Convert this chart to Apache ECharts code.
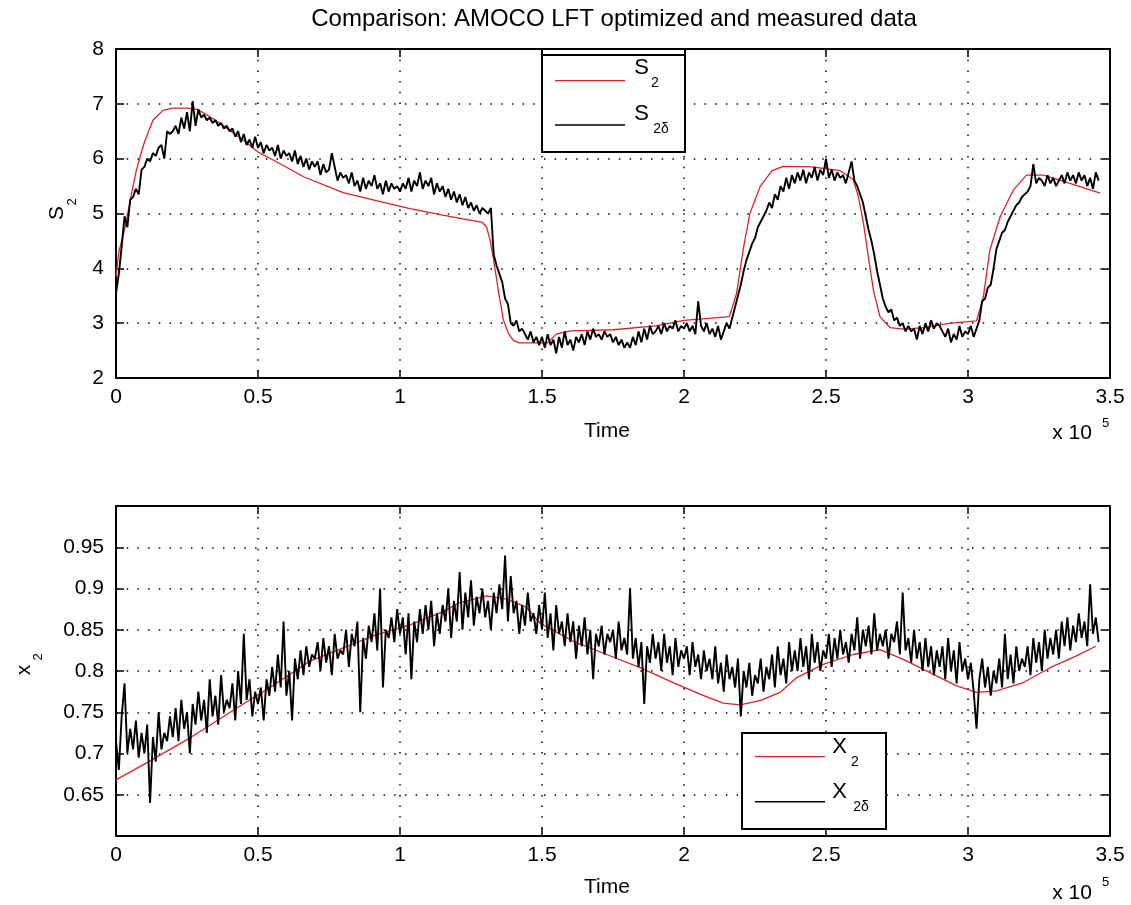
<!DOCTYPE html>
<html>
<head>
<meta charset="utf-8">
<script src="https://cdn.jsdelivr.net/npm/echarts@6/dist/echarts.min.js"></script>
<style>
  body { margin: 0; background: #fff; }
  #chart { width: 1131px; height: 905px; }
</style>
</head>
<body>
<div id="chart"></div>
<script>
// time in units of 1e5, measured data sampled every 0.01
const sampleStep = 0.01;

// S2 model (red)
const modelSTime = [0, 0.01, 0.03, 0.055, 0.07, 0.085, 0.1, 0.13, 0.165, 0.2, 0.25, 0.285, 0.32, 0.37, 0.45, 0.5, 0.57, 0.66, 0.8, 0.92, 1.035, 1.15, 1.29, 1.305, 1.317, 1.328, 1.346, 1.364, 1.382, 1.4, 1.42, 1.52, 1.55, 1.6, 1.75, 1.9, 2.0, 2.16, 2.185, 2.21, 2.232, 2.268, 2.31, 2.35, 2.45, 2.55, 2.596, 2.614, 2.632, 2.649, 2.667, 2.69, 2.725, 2.772, 2.85, 2.937, 3.03, 3.054, 3.077, 3.113, 3.16, 3.206, 3.265, 3.359, 3.43, 3.465];
const modelS = [3.85, 4.3, 4.7, 5.37, 5.75, 6.04, 6.3, 6.7, 6.88, 6.92, 6.92, 6.9, 6.8, 6.63, 6.33, 6.12, 5.93, 5.67, 5.38, 5.23, 5.09, 4.97, 4.84, 4.75, 4.52, 4.21, 3.6, 3.06, 2.81, 2.68, 2.64, 2.64, 2.8, 2.86, 2.88, 2.95, 3.05, 3.12, 3.54, 4.39, 5.0, 5.49, 5.78, 5.86, 5.85, 5.78, 5.62, 5.31, 4.82, 4.21, 3.6, 3.12, 2.92, 2.89, 2.92, 3.0, 3.04, 3.48, 4.33, 4.94, 5.43, 5.7, 5.7, 5.55, 5.43, 5.37];

// S2 delta measured (black)
const measS = [
  3.55, 3.90, 4.40, 4.95, 4.75, 5.25, 5.30, 5.45, 5.35, 5.80,
  5.85, 6.00, 5.95, 6.10, 6.05, 6.20, 6.25, 6.00, 6.50, 6.45,
  6.50, 6.60, 6.45, 6.75, 6.55, 6.85, 6.50, 7.05, 6.60, 6.90,
  6.75, 6.80, 6.70, 6.75, 6.65, 6.70, 6.60, 6.65, 6.55, 6.60,
  6.50, 6.55, 6.40, 6.50, 6.30, 6.45, 6.25, 6.35, 6.20, 6.40,
  6.20, 6.30, 6.10, 6.25, 6.15, 6.20, 6.05, 6.25, 6.00, 6.15,
  6.05, 6.10, 5.95, 6.15, 5.90, 6.05, 5.85, 6.00, 5.80, 5.95,
  5.85, 5.95, 5.70, 5.90, 5.75, 5.80, 6.10, 5.85, 5.60, 5.75,
  5.65, 5.70, 5.55, 5.75, 5.50, 5.60, 5.40, 5.65, 5.45, 5.60,
  5.50, 5.70, 5.45, 5.55, 5.35, 5.60, 5.40, 5.55, 5.45, 5.50,
  5.40, 5.55, 5.45, 5.65, 5.40, 5.60, 5.50, 5.75, 5.45, 5.60,
  5.50, 5.65, 5.35, 5.55, 5.40, 5.50, 5.30, 5.45, 5.25, 5.40,
  5.20, 5.35, 5.15, 5.30, 5.10, 5.20, 5.05, 5.15, 5.00, 5.10,
  5.05, 5.00, 5.10, 4.25, 4.05, 3.90, 3.75, 3.45, 3.35, 3.00,
  2.95, 3.05, 2.85, 2.90, 2.80, 2.70, 2.85, 2.65, 2.75, 2.60,
  2.75, 2.55, 2.80, 2.60, 2.70, 2.45, 2.75, 2.55, 2.85, 2.60,
  2.70, 2.50, 2.75, 2.65, 2.80, 2.60, 2.85, 2.70, 2.90, 2.75,
  2.80, 2.70, 2.85, 2.75, 2.80, 2.65, 2.75, 2.60, 2.70, 2.55,
  2.65, 2.55, 2.75, 2.60, 2.85, 2.65, 2.90, 2.70, 2.95, 2.80,
  2.85, 2.95, 2.80, 3.00, 2.85, 2.95, 2.90, 3.05, 2.85, 2.95,
  2.90, 3.00, 2.85, 2.95, 2.80, 3.40, 2.95, 2.85, 3.00, 2.80,
  2.90, 2.75, 2.95, 2.70, 2.85, 3.00, 2.90, 3.10, 3.30, 3.50,
  3.70, 3.95, 4.15, 4.30, 4.45, 4.55, 4.75, 4.85, 4.95, 5.05,
  5.20, 5.10, 5.35, 5.25, 5.50, 5.40, 5.65, 5.45, 5.70, 5.55,
  5.75, 5.60, 5.80, 5.55, 5.75, 5.65, 5.85, 5.60, 5.80, 5.70,
  6.00, 5.65, 5.80, 5.60, 5.75, 5.65, 5.70, 5.55, 5.75, 5.95,
  5.60, 5.50, 5.35, 5.20, 4.95, 4.70, 4.50, 4.25, 3.95, 3.70,
  3.45, 3.30, 3.20, 3.25, 3.05, 3.10, 2.95, 3.00, 2.85, 2.95,
  2.85, 2.90, 2.70, 2.95, 2.80, 3.00, 2.85, 3.05, 2.90, 3.00,
  2.95, 2.85, 2.75, 2.90, 2.65, 2.80, 2.70, 2.95, 2.75, 2.85,
  2.80, 2.95, 2.75, 2.90, 3.05, 3.40, 3.45, 3.65, 3.70, 4.00,
  4.35, 4.50, 4.65, 4.70, 4.85, 4.95, 5.05, 5.15, 5.20, 5.30,
  5.35, 5.40, 5.50, 5.90, 5.55, 5.65, 5.60, 5.50, 5.70, 5.55,
  5.65, 5.50, 5.60, 5.70, 5.55, 5.75, 5.60, 5.70, 5.55, 5.75,
  5.60, 5.70, 5.50, 5.65, 5.45, 5.75, 5.60
];

// X2 model (red)
const modelXTime = [0, 0.12, 0.261, 0.448, 0.542, 0.683, 0.8, 0.918, 1.035, 1.152, 1.211, 1.305, 1.376, 1.446, 1.493, 1.61, 1.728, 1.845, 1.962, 2.056, 2.138, 2.197, 2.268, 2.338, 2.397, 2.49, 2.596, 2.69, 2.772, 2.866, 2.96, 3.03, 3.1, 3.195, 3.289, 3.38, 3.45];
const modelX = [0.668, 0.691, 0.719, 0.76, 0.78, 0.812, 0.828, 0.844, 0.856, 0.872, 0.883, 0.891, 0.887, 0.877, 0.858, 0.836, 0.82, 0.804, 0.786, 0.772, 0.761, 0.759, 0.764, 0.774, 0.792, 0.808, 0.82, 0.826, 0.814, 0.798, 0.782, 0.774, 0.776, 0.786, 0.804, 0.818, 0.83];

// X2 delta measured (black)
const measX = [
  0.715, 0.680, 0.745, 0.785, 0.700, 0.730, 0.705, 0.740, 0.695, 0.725,
  0.700, 0.735, 0.640, 0.720, 0.690, 0.750, 0.705, 0.725, 0.715, 0.745,
  0.720, 0.755, 0.715, 0.765, 0.730, 0.750, 0.700, 0.760, 0.735, 0.775,
  0.740, 0.765, 0.725, 0.790, 0.745, 0.770, 0.735, 0.795, 0.750, 0.765,
  0.755, 0.785, 0.740, 0.800, 0.760, 0.845, 0.765, 0.790, 0.745, 0.775,
  0.760, 0.780, 0.740, 0.790, 0.770, 0.805, 0.775, 0.820, 0.780, 0.860,
  0.770, 0.800, 0.740, 0.815, 0.790, 0.825, 0.795, 0.830, 0.805, 0.820,
  0.815, 0.835, 0.800, 0.840, 0.810, 0.830, 0.795, 0.845, 0.815, 0.825,
  0.820, 0.850, 0.805, 0.845, 0.830, 0.860, 0.750, 0.840, 0.815, 0.855,
  0.835, 0.870, 0.825, 0.900, 0.780, 0.850, 0.840, 0.865, 0.835, 0.875,
  0.845, 0.865, 0.820, 0.870, 0.790, 0.860, 0.835, 0.875, 0.845, 0.880,
  0.850, 0.885, 0.830, 0.870, 0.845, 0.880, 0.860, 0.900, 0.840, 0.885,
  0.860, 0.920, 0.850, 0.895, 0.865, 0.910, 0.855, 0.890, 0.870, 0.900,
  0.865, 0.885, 0.850, 0.895, 0.870, 0.905, 0.875, 0.940, 0.860, 0.915,
  0.870, 0.885, 0.845, 0.880, 0.855, 0.895, 0.860, 0.870, 0.845, 0.880,
  0.850, 0.895, 0.840, 0.870, 0.825, 0.880, 0.845, 0.860, 0.830, 0.870,
  0.835, 0.860, 0.815, 0.855, 0.830, 0.865, 0.820, 0.850, 0.790, 0.845,
  0.830, 0.855, 0.820, 0.845, 0.835, 0.850, 0.815, 0.860, 0.825, 0.840,
  0.820, 0.900, 0.815, 0.840, 0.805, 0.835, 0.760, 0.830, 0.810, 0.845,
  0.815, 0.835, 0.800, 0.845, 0.810, 0.830, 0.795, 0.840, 0.805, 0.825,
  0.815, 0.830, 0.795, 0.835, 0.805, 0.820, 0.790, 0.825, 0.800, 0.815,
  0.790, 0.830, 0.785, 0.810, 0.775, 0.820, 0.790, 0.805, 0.780, 0.815,
  0.745, 0.800, 0.780, 0.810, 0.770, 0.795, 0.785, 0.815, 0.775, 0.805,
  0.790, 0.820, 0.780, 0.830, 0.795, 0.815, 0.785, 0.835, 0.800, 0.825,
  0.800, 0.840, 0.805, 0.830, 0.790, 0.845, 0.810, 0.835, 0.800, 0.825,
  0.815, 0.845, 0.805, 0.840, 0.815, 0.850, 0.820, 0.835, 0.810, 0.845,
  0.825, 0.865, 0.815, 0.850, 0.830, 0.855, 0.820, 0.870, 0.825, 0.845,
  0.830, 0.850, 0.815, 0.845, 0.835, 0.860, 0.820, 0.895, 0.825, 0.840,
  0.810, 0.850, 0.815, 0.835, 0.800, 0.840, 0.805, 0.830, 0.795, 0.825,
  0.805, 0.830, 0.790, 0.840, 0.800, 0.825, 0.785, 0.835, 0.800, 0.815,
  0.790, 0.810, 0.775, 0.730, 0.790, 0.815, 0.780, 0.805, 0.770, 0.800,
  0.785, 0.815, 0.780, 0.845, 0.790, 0.820, 0.785, 0.830, 0.800, 0.815,
  0.805, 0.830, 0.795, 0.840, 0.810, 0.835, 0.800, 0.850, 0.815, 0.840,
  0.820, 0.850, 0.815, 0.860, 0.830, 0.865, 0.825, 0.855, 0.835, 0.870,
  0.840, 0.860, 0.830, 0.905, 0.845, 0.865, 0.835
];

const FONT = "'Liberation Sans', Arial, sans-serif";
const RED = "#d9232b";

const pairs = (xs, ys) => ys.map((y, i) => [xs[i], y]);
const sampled = (ys) => ys.map((y, i) => [+(i * sampleStep).toFixed(2), y]);

function xAxes(grid) {
  const common = {
    gridIndex: grid, type: "value", min: 0, max: 3.5, interval: 0.5,
    axisLine: { show: true, onZero: false, lineStyle: { color: "#000", width: 2 } },
    axisTick: { show: true, inside: true, length: 8, lineStyle: { color: "#000", width: 1.5 } },
  };
  return [
    Object.assign({}, common, {
      position: "bottom",
      axisLabel: { color: "#000", fontSize: 21, fontFamily: FONT, margin: 9, showMinLabel: true, showMaxLabel: true },
      splitLine: { show: true, lineStyle: { color: "#000", width: 1.5, type: [1.5, 9.2] } },
    }),
    Object.assign({}, common, {
      position: "top",
      axisLabel: { show: false },
      splitLine: { show: false },
    }),
  ];
}

function yAxes(grid, min, max, interval, fmt) {
  const common = {
    gridIndex: grid, type: "value", min: min, max: max, interval: interval,
    axisLine: { show: true, onZero: false, lineStyle: { color: "#000", width: 2 } },
    axisTick: { show: true, inside: true, length: 8, lineStyle: { color: "#000", width: 1.5 } },
  };
  return [
    Object.assign({}, common, {
      position: "left",
      axisLabel: { color: "#000", fontSize: 21, fontFamily: FONT, margin: 12, formatter: fmt, showMinLabel: true, showMaxLabel: true },
      splitLine: { show: true, lineStyle: { color: "#000", width: 1.5, type: [1.5, 9.2] } },
    }),
    Object.assign({}, common, {
      position: "right",
      axisLabel: { show: false },
      splitLine: { show: false },
    }),
  ];
}

function txt(x, y, text, size, rot) {
  return {
    type: "text", x: x, y: y, rotation: rot || 0, z: 100,
    style: { text: text, fontSize: size, fontFamily: FONT, fill: "#000", align: "center", verticalAlign: "middle" },
  };
}
function seg(x1, y1, x2, y2, color, w) {
  return { type: "line", z: 100, shape: { x1: x1, y1: y1, x2: x2, y2: y2 }, style: { stroke: color, lineWidth: w } };
}
function box(x, y, w, h) {
  return { type: "rect", z: 99, shape: { x: x, y: y, width: w, height: h }, style: { fill: "#fff", stroke: "#000", lineWidth: 2 } };
}

const chart = echarts.init(document.getElementById("chart"));
chart.setOption({
  animation: false,
  backgroundColor: "#fff",
  grid: [
    { left: 116, top: 49, width: 994, height: 329 },
    { left: 116, top: 506, width: 994, height: 330 },
  ],
  xAxis: [].concat(xAxes(0), xAxes(1)),
  yAxis: [].concat(
    yAxes(0, 2, 8, 1, (v) => String(v)),
    yAxes(1, 0.6, 1.0, 0.05, (v) => (v < 0.62 || v > 0.98 ? "" : String(+v.toFixed(2))))
  ),
  series: [
    { name: "S2", type: "line", xAxisIndex: 0, yAxisIndex: 0, data: pairs(modelSTime, modelS), showSymbol: false, lineStyle: { color: RED, width: 1.3 } },
    { name: "S2d", type: "line", xAxisIndex: 0, yAxisIndex: 0, data: sampled(measS), showSymbol: false, lineStyle: { color: "#000", width: 1.9 } },
    { name: "X2", type: "line", xAxisIndex: 2, yAxisIndex: 2, data: pairs(modelXTime, modelX), showSymbol: false, lineStyle: { color: RED, width: 1.3 } },
    { name: "X2d", type: "line", xAxisIndex: 2, yAxisIndex: 2, data: sampled(measX), showSymbol: false, lineStyle: { color: "#000", width: 1.9 } },
  ],
  graphic: [
    txt(614, 19.5, "Comparison: AMOCO LFT optimized and measured data", 24),
    // top axis labels
    txt(607, 431, "Time", 21),
    txt(1072, 433, "x 10", 21),
    txt(1105.5, 423, "5", 13),
    txt(57, 213, "S", 21, Math.PI / 2),
    txt(72, 202, "2", 13, Math.PI / 2),
    // bottom axis labels
    txt(607, 887, "Time", 21),
    txt(1072, 893, "x 10", 21),
    txt(1105.5, 882, "5", 13),
    txt(24, 670, "x", 21, Math.PI / 2),
    txt(38, 657, "2", 13, Math.PI / 2),
    // top legend
    box(542, 49, 143, 103),
    seg(542, 55, 685, 55, "#000", 2),
    seg(555, 80.7, 625, 80.7, RED, 1.3),
    seg(555, 125, 625, 125, "#000", 1.6),
    txt(641.5, 68, "S", 22),
    txt(655, 83.5, "2", 14),
    txt(641.5, 114, "S", 22),
    txt(661, 129, "2δ", 14),
    // bottom legend
    box(742, 733, 144, 96),
    seg(755, 756.7, 825, 756.7, RED, 1.3),
    seg(755, 801.7, 825, 801.7, "#000", 1.6),
    txt(839.5, 746.7, "X", 22),
    txt(855, 762.5, "2", 14),
    txt(839.5, 791.7, "X", 22),
    txt(861, 806.7, "2δ", 14),
  ],
});
</script>
</body>
</html>
